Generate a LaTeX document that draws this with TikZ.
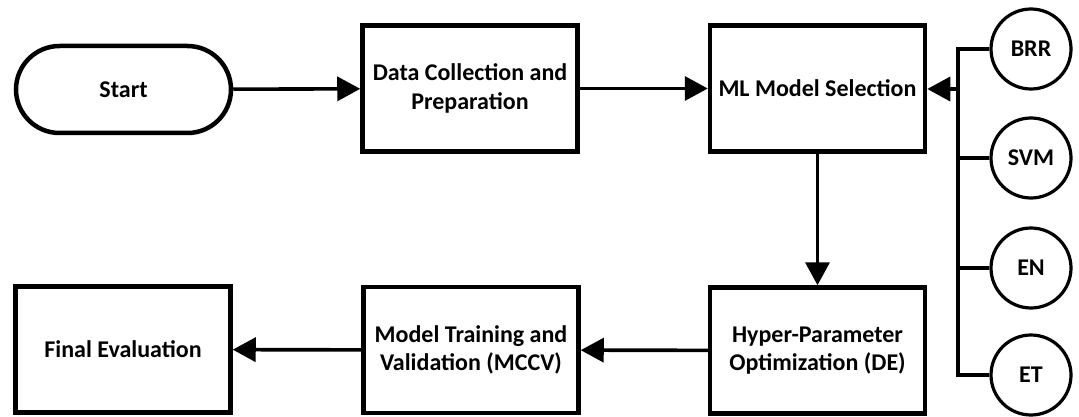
\documentclass[tikz,border=0pt]{standalone}
\usepackage{fontspec}
\setmainfont{Carlito}
\usetikzlibrary{arrows.meta,shapes.misc}
\begin{document}
\begin{tikzpicture}[x=1pt,y=-1pt,
  font=\bfseries\fontsize{24}{28.5}\selectfont,
  box/.style={draw,line width=4.5pt,minimum width=215pt,minimum height=126pt,align=center,inner sep=0pt},
  term/.style={draw,line width=4.5pt,rounded rectangle,minimum width=215pt,minimum height=87pt,inner sep=0pt},
  model/.style={draw,circle,line width=3.2pt,minimum size=80pt,inner sep=0pt},
  conn/.style={line width=3.6pt},
  arr/.style={conn,-{Triangle[length=23pt,width=24pt]}}]
\useasboundingbox (0,0) rectangle (1079,417);
\node[term] (start) at (123.5,89.5) {Start};
\node[box] (data) at (470,88.5) {Data Collection and\\Preparation};
\node[box] (ml) at (817.5,88.5) {ML Model Selection};
\node[box] (hpo) at (817.5,350.5) {Hyper-Parameter\\Optimization (DE)};
\node[box] (mt) at (471,350) {Model Training and\\Validation (MCCV)};
\node[box] (fe) at (123,349.5) {Final Evaluation};
\node[model] (brr) at (1031,49) {BRR};
\node[model] (svm) at (1031,158) {SVM};
\node[model] (en) at (1031,268) {EN};
\node[model] (et) at (1031,375) {ET};
\coordinate (bus) at (958,89);
\draw[conn] (brr.west) -| (bus) |- (et.west);
\draw[conn] (svm.west) -- (svm.west -| bus);
\draw[conn] (en.west) -- (en.west -| bus);
\draw[arr] (bus) -- (ml.east |- bus);
\draw[arr] (start) -- (data);
\draw[arr] (data) -- (ml);
\draw[arr] (ml) -- (hpo);
\draw[arr] (hpo) -- (mt);
\draw[arr] (mt) -- (fe);
\end{tikzpicture}
\end{document}
